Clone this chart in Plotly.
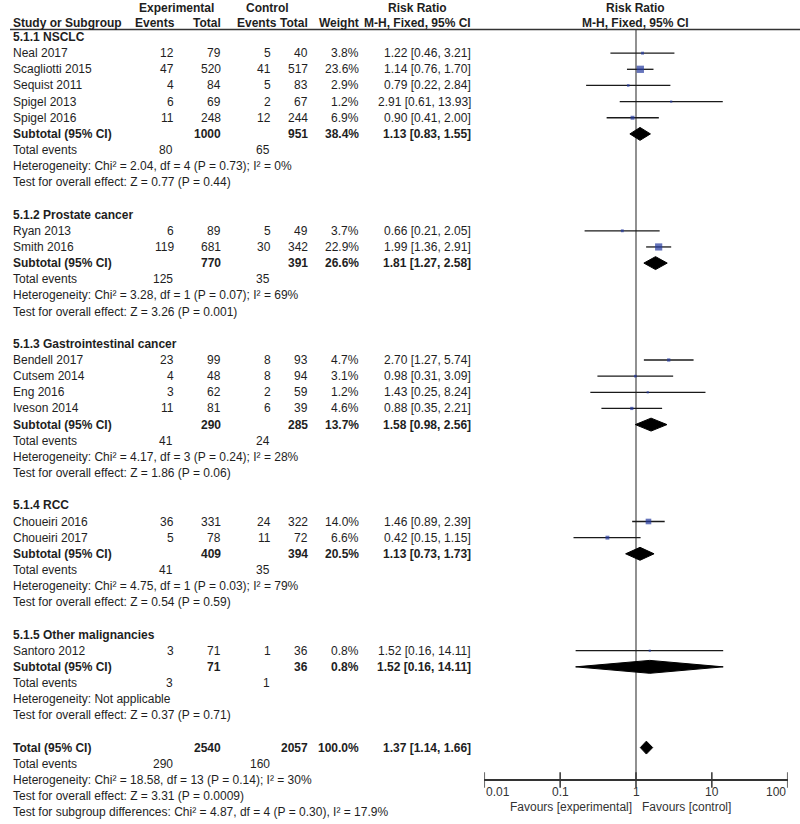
import math
import plotly.graph_objects as go

# ---------------- data ----------------
studies = ["Neal 2017", "Scagliotti 2015", "Sequist 2011", "Spigel 2013", "Spigel 2016",
           "Ryan 2013", "Smith 2016",
           "Bendell 2017", "Cutsem 2014", "Eng 2016", "Iveson 2014",
           "Choueiri 2016", "Choueiri 2017",
           "Santoro 2012"]
study_group = [0, 0, 0, 0, 0, 1, 1, 2, 2, 2, 2, 3, 3, 4]
exp_events = [12, 47, 4, 6, 11, 6, 119, 23, 4, 3, 11, 36, 5, 3]
exp_total = [79, 520, 84, 69, 248, 89, 681, 99, 48, 62, 81, 331, 78, 71]
ctl_events = [5, 41, 5, 2, 12, 5, 30, 8, 8, 2, 6, 24, 11, 1]
ctl_total = [40, 517, 83, 67, 244, 49, 342, 93, 94, 59, 39, 322, 72, 36]
weights = [3.8, 23.6, 2.9, 1.2, 6.9, 3.7, 22.9, 4.7, 3.1, 1.2, 4.6, 14.0, 6.6, 0.8]
rr = [1.22, 1.14, 0.79, 2.91, 0.90, 0.66, 1.99, 2.70, 0.98, 1.43, 0.88, 1.46, 0.42, 1.52]
rr_lo = [0.46, 0.76, 0.22, 0.61, 0.41, 0.21, 1.36, 1.27, 0.31, 0.25, 0.35, 0.89, 0.15, 0.16]
rr_hi = [3.21, 1.70, 2.84, 13.93, 2.00, 2.05, 2.91, 5.74, 3.09, 8.24, 2.21, 2.39, 1.15, 14.11]

groups = ["5.1.1 NSCLC", "5.1.2 Prostate cancer", "5.1.3 Gastrointestinal cancer",
          "5.1.4 RCC", "5.1.5 Other malignancies"]
sub_exp_total = [1000, 770, 290, 409, 71]
sub_ctl_total = [951, 391, 285, 394, 36]
sub_exp_events = [80, 125, 41, 41, 3]
sub_ctl_events = [65, 35, 24, 35, 1]
sub_weight = [38.4, 26.6, 13.7, 20.5, 0.8]
sub_rr = [1.13, 1.81, 1.58, 1.13, 1.52]
sub_lo = [0.83, 1.27, 0.98, 0.73, 0.16]
sub_hi = [1.55, 2.58, 2.56, 1.73, 14.11]
sub_het = ["Heterogeneity: Chi² = 2.04, df = 4 (P = 0.73); I² = 0%",
           "Heterogeneity: Chi² = 3.28, df = 1 (P = 0.07); I² = 69%",
           "Heterogeneity: Chi² = 4.17, df = 3 (P = 0.24); I² = 28%",
           "Heterogeneity: Chi² = 4.75, df = 1 (P = 0.03); I² = 79%",
           "Heterogeneity: Not applicable"]
sub_test = ["Test for overall effect: Z = 0.77 (P = 0.44)",
            "Test for overall effect: Z = 3.26 (P = 0.001)",
            "Test for overall effect: Z = 1.86 (P = 0.06)",
            "Test for overall effect: Z = 0.54 (P = 0.59)",
            "Test for overall effect: Z = 0.37 (P = 0.71)"]

tot_exp_total, tot_ctl_total = 2540, 2057
tot_exp_events, tot_ctl_events = 290, 160
tot_weight = 100.0
tot_rr, tot_lo, tot_hi = 1.37, 1.14, 1.66
tot_lines = ["Heterogeneity: Chi² = 18.58, df = 13 (P = 0.14); I² = 30%",
             "Test for overall effect: Z = 3.31 (P = 0.0009)",
             "Test for subgroup differences: Chi² = 4.87, df = 4 (P = 0.30), I² = 17.9%"]

tick_vals = [0.01, 0.1, 1, 10, 100]
tick_text = ["0.01", "0.1", "1", "10", "100"]

# ---------------- layout helpers ----------------
W, H = 800, 824
ROW0, DROW = 37.0, 16.15


def ry(p):
    """screen pixel y -> row units"""
    return (p - ROW0) / DROW


FONT = "Liberation Sans, Arial, sans-serif"
TXT = "#1e1e1e"
FS = 12

X_NAME = 11
X_EE, X_ET, X_CE, X_CT, X_W, X_RR = 176, 223, 273, 310, 361, 473

ann = []


def t(x, y, s, anchor="left", bold=False, size=FS, color=TXT, xref="x"):
    ann.append(dict(x=x, y=y, xref=xref, yref="y", text=("<b>%s</b>" % s) if bold else s,
                    showarrow=False, xanchor=anchor, yanchor="middle",
                    font=dict(family=FONT, size=size, color=color)))


def rrtxt(a, b, c):
    return "%.2f [%.2f, %.2f]" % (a, b, c)


# headers
h1, h2 = ry(8), ry(23)
t(176, h1, "Experimental", "center", True)
t(267, h1, "Control", "center", True)
t(417, h1, "Risk Ratio", "center", True)
t(X_NAME, h2, "Study or Subgroup", "left", True)
t(X_EE + 1, h2, "Events", "right", True)
t(X_ET, h2, "Total", "right", True)
t(279, h2, "Events", "right", True)
t(X_CT, h2, "Total", "right", True)
t(X_W, h2, "Weight", "right", True)
t(X_RR, h2, "M-H, Fixed, 95% CI", "right", True)

study_rows = []
sub_rows = []
r = 0
for g in range(len(groups)):
    t(X_NAME, r, groups[g], "left", True)
    r += 1
    for i, sg in enumerate(study_group):
        if sg != g:
            continue
        study_rows.append(r)
        t(X_NAME, r, studies[i])
        t(X_EE, r, str(exp_events[i]), "right")
        t(X_ET, r, str(exp_total[i]), "right")
        t(X_CE, r, str(ctl_events[i]), "right")
        t(X_CT, r, str(ctl_total[i]), "right")
        t(X_W, r, "%.1f%%" % weights[i], "right")
        t(X_RR, r, rrtxt(rr[i], rr_lo[i], rr_hi[i]), "right")
        r += 1
    sub_rows.append(r)
    t(X_NAME, r, "Subtotal (95% CI)", "left", True)
    t(X_ET, r, str(sub_exp_total[g]), "right", True)
    t(X_CT, r, str(sub_ctl_total[g]), "right", True)
    t(X_W, r, "%.1f%%" % sub_weight[g], "right", True)
    t(X_RR, r, rrtxt(sub_rr[g], sub_lo[g], sub_hi[g]), "right", True)
    r += 1
    t(X_NAME, r, "Total events")
    t(X_EE - 1, r, str(sub_exp_events[g]), "right")
    t(X_CE - 1, r, str(sub_ctl_events[g]), "right")
    r += 1
    t(X_NAME, r, sub_het[g])
    r += 1
    t(X_NAME, r, sub_test[g])
    r += 2

tot_row = r
t(X_NAME, r, "Total (95% CI)", "left", True)
t(X_ET, r, str(tot_exp_total), "right", True)
t(X_CT, r, str(tot_ctl_total), "right", True)
t(X_W, r, "%.1f%%" % tot_weight, "right", True)
t(X_RR, r, rrtxt(tot_rr, tot_lo, tot_hi), "right", True)
r += 1
t(X_NAME, r, "Total events")
t(X_EE - 1, r, str(tot_exp_events), "right")
t(X_CE - 1, r, str(tot_ctl_events), "right")
r += 1
for line in tot_lines:
    t(X_NAME, r, line)
    r += 1

# forest panel headers
t(635, h1, "Risk Ratio", "center", True)
t(635, h2, "M-H, Fixed, 95% CI", "center", True)

AX_Y = ry(780)
t(634, ry(807), "Favours [experimental]", "right", color="#333")
t(640, ry(807), "Favours [control]", "left", color="#333")

# tick labels: outer ones kept inside the axis span, as in RevMan
for k, (v, s) in enumerate(zip(tick_vals, tick_text)):
    anc = "left" if k == 0 else ("right" if k == len(tick_vals) - 1 else "center")
    t(math.log10(v), ry(792), s, anc, color="#333", xref="x2")

# ---------------- traces ----------------
fig = go.Figure()
fig.add_trace(go.Scatter(x=[0, W], y=[0, 0], mode="markers", marker=dict(opacity=0),
                         hoverinfo="skip", showlegend=False, xaxis="x", yaxis="y"))

# null line
fig.add_trace(go.Scatter(x=[1, 1], y=[ry(29), AX_Y], mode="lines",
                         line=dict(color="#555", width=1.3), xaxis="x2", yaxis="y",
                         showlegend=False, hoverinfo="skip"))

# CI lines
cx, cy = [], []
for i in range(len(studies)):
    cx += [rr_lo[i], rr_hi[i], None]
    cy += [study_rows[i], study_rows[i], None]
fig.add_trace(go.Scatter(x=cx, y=cy, mode="lines", line=dict(color="#1a1a1a", width=1.3),
                         xaxis="x2", yaxis="y", showlegend=False, hoverinfo="skip"))

# squares (area ~ weight)
sizes = [max(2.2, 1.5 * w ** 0.5) for w in weights]
fig.add_trace(go.Scatter(x=rr, y=study_rows, mode="markers",
                         marker=dict(symbol="square", size=sizes, color="#23399e", line=dict(width=0)),
                         xaxis="x2", yaxis="y", showlegend=False))

# diamonds
HH = 0.4
dia = [(sub_rr[g], sub_lo[g], sub_hi[g], sub_rows[g]) for g in range(len(groups))]
dia.append((tot_rr, tot_lo, tot_hi, tot_row))
for est, lo, hi, row in dia:
    fig.add_trace(go.Scatter(x=[lo, est, hi, est, lo], y=[row, row - HH, row, row + HH, row],
                             mode="lines", fill="toself", fillcolor="#000",
                             line=dict(color="#000", width=1), xaxis="x2", yaxis="y",
                             showlegend=False, hoverinfo="skip"))

# axis tick marks (both sides of axis line)
fig.add_trace(go.Scatter(x=tick_vals, y=[AX_Y] * len(tick_vals), mode="markers",
                         marker=dict(symbol="line-ns", size=11, line=dict(color="#333", width=1.5)),
                         xaxis="x2", yaxis="y", showlegend=False, hoverinfo="skip"))

x0p, x1p = 484.3, 787.7
fig.update_layout(
    width=W, height=H, margin=dict(l=0, r=0, t=0, b=0, pad=0),
    plot_bgcolor="white", paper_bgcolor="white",
    xaxis=dict(domain=[0, 1], range=[0, W], visible=False, fixedrange=True),
    xaxis2=dict(domain=[x0p / W, x1p / W], type="log", range=[-2, 2],
                anchor="free", position=1 - 780 / H,
                showline=True, linecolor="#333", linewidth=1.5,
                showgrid=False, zeroline=False, ticks="", automargin=False,
                showticklabels=False, fixedrange=True),
    yaxis=dict(domain=[0, 1], range=[ry(H), ry(0)], visible=False, fixedrange=True),
    annotations=ann,
    shapes=[dict(type="line", xref="x", yref="y", x0=10, x1=W, y0=ry(29.5), y1=ry(29.5),
                 line=dict(color="#333", width=1.3))],
    showlegend=False,
)

# remove the browser's default 8px body margin so the figure fills the window
fig.write_html("out.html", config={"displayModeBar": False},
               post_script="document.body.style.margin='0';document.body.style.overflow='hidden';")
